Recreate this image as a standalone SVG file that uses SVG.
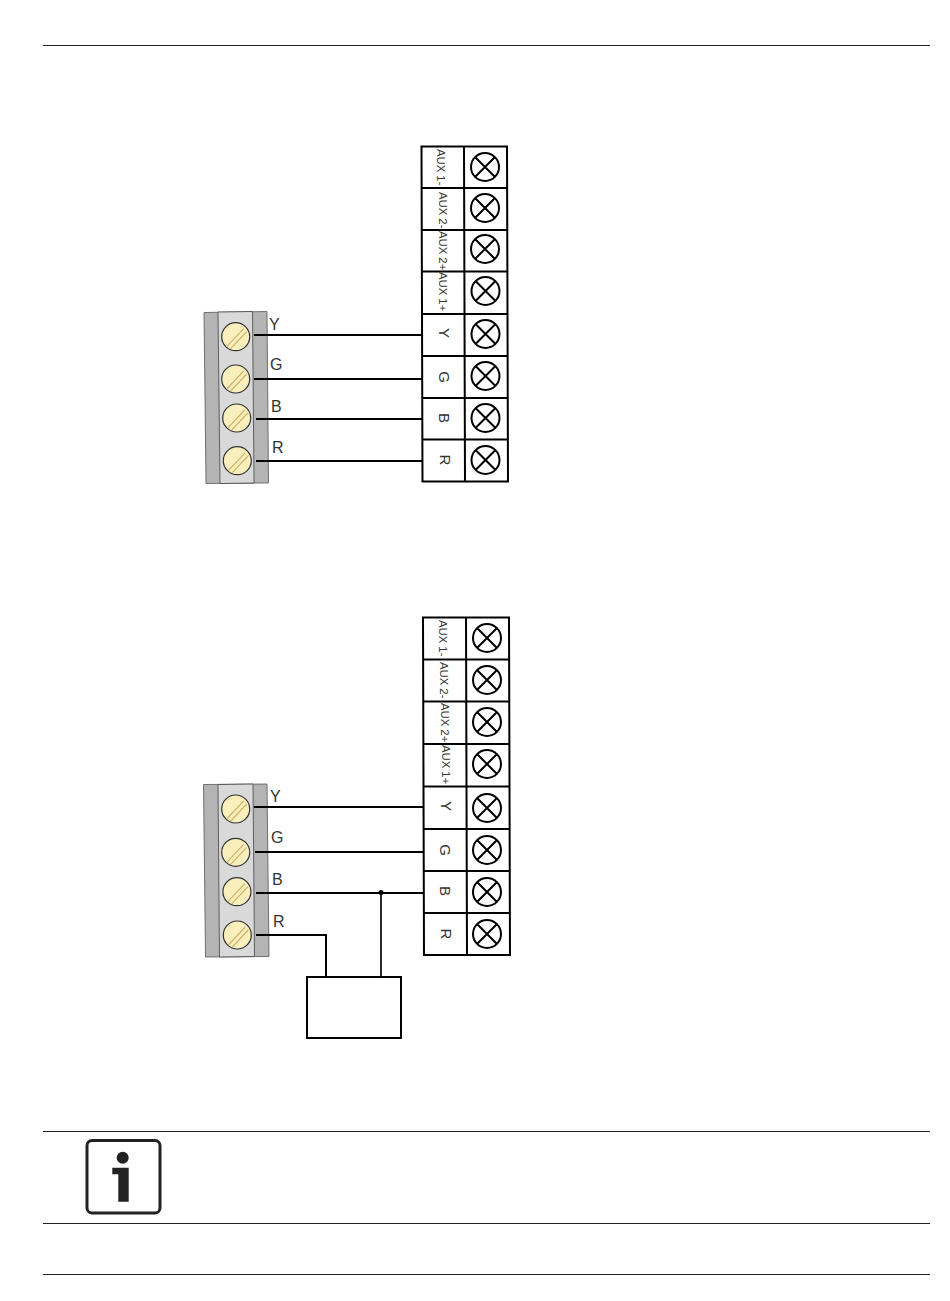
<svg xmlns="http://www.w3.org/2000/svg" xmlns:xlink="http://www.w3.org/1999/xlink" width="950" height="1301" viewBox="0 0 950 1301">
<style>
.bg{fill:#fff}
.rule{stroke:#222;stroke-width:1;fill:none}
.wire{stroke:#000;stroke-width:2;fill:none}
.thin{stroke:#111;stroke-width:1.8;fill:none}
.cell{fill:#fff;stroke:#000;stroke-width:2}
.side{fill:#b4b4b4;stroke:#555;stroke-width:.8}
.mid{fill:#d9d9d9;stroke:#444;stroke-width:.8}
.lbl{font-family:"Liberation Sans",Arial,sans-serif;font-size:16px;fill:#333}
.small{font-family:"Liberation Sans",Arial,sans-serif;font-size:11.3px;fill:#333}
.big{font-family:"Liberation Sans",Arial,sans-serif;font-size:15px;fill:#333;text-anchor:middle}
</style>
<defs>
<g id="screw">
<circle r="14" fill="#f9efbd" stroke="#333" stroke-width="1.2"/>
<path d="M-9 10L8 -8M-5 12L11 -5" stroke="#cfb468" stroke-width="1.2" fill="none"/>
</g>
<g id="cross">
<circle r="14" fill="#fff" stroke="#000" stroke-width="2"/>
<path d="M-10 -10L10 10M10 -10L-10 10" stroke="#000" stroke-width="2" fill="none"/>
</g>
</defs>
<rect class="bg" width="950" height="1301"/>
<g id="page-rules">
<path class="rule" d="M43 45.500H930M43 1131.500H930M43 1223.500H930M43 1274.500H930"/>
</g>

<g id="terminal-top">
<path class="side" d="M204 312.500L267 311.500L268.500 483L206 483.500Z"/>
<path class="mid" d="M218 312L252.500 311.500L254 483L220 483.500Z"/>
<use xlink:href="#screw" href="#screw" x="235.700" y="336.700"/>
<use xlink:href="#screw" href="#screw" x="235.700" y="379"/>
<use xlink:href="#screw" href="#screw" x="236.700" y="418"/>
<use xlink:href="#screw" href="#screw" x="237.300" y="460.700"/>
<text class="lbl" x="269" y="330">Y</text>
<text class="lbl" x="270" y="370">G</text>
<text class="lbl" x="271" y="412">B</text>
<text class="lbl" x="272" y="453">R</text>
</g>

<g id="block-top">
<path class="cell" d="M421.500 146.500H507L508 481.500H422.500Z"/>
<path class="cell" d="M464 146.500L465 481.500M421.500 188H507M421.500 230H507.500M421.500 271.500H507.500M422 314H507.500M422 356H508M422 398H508M422 439.500H508"/>
<use xlink:href="#cross" href="#cross" x="485" y="167"/>
<use xlink:href="#cross" href="#cross" x="485" y="208"/>
<use xlink:href="#cross" href="#cross" x="485" y="249"/>
<use xlink:href="#cross" href="#cross" x="485.500" y="291"/>
<use xlink:href="#cross" href="#cross" x="485.500" y="334"/>
<use xlink:href="#cross" href="#cross" x="485.500" y="376"/>
<use xlink:href="#cross" href="#cross" x="485.500" y="418"/>
<use xlink:href="#cross" href="#cross" x="485.500" y="460"/>
<text class="small" transform="translate(437 149) rotate(90)">AUX 1-</text>
<text class="small" transform="translate(438.500 192) rotate(90)">AUX 2-</text>
<text class="small" transform="translate(438.500 231) rotate(90)">AUX 2+</text>
<text class="small" transform="translate(439 272) rotate(90)">AUX 1+</text>
<text class="big" transform="translate(439 333) rotate(90)">Y</text>
<text class="big" transform="translate(439 377) rotate(90)">G</text>
<text class="big" transform="translate(439 418) rotate(90)">B</text>
<text class="big" transform="translate(440 460) rotate(90)">R</text>
</g>

<g id="terminal-bottom">
<path class="side" d="M203.500 784.500L267 784L269 956.500L205.500 957Z"/>
<path class="mid" d="M218 784.500L253 784L254.500 956.500L219.500 957Z"/>
<use xlink:href="#screw" href="#screw" x="235.700" y="809"/>
<use xlink:href="#screw" href="#screw" x="235.700" y="852.300"/>
<use xlink:href="#screw" href="#screw" x="236.900" y="891.700"/>
<use xlink:href="#screw" href="#screw" x="237.300" y="935"/>
<text class="lbl" x="270" y="802">Y</text>
<text class="lbl" x="271" y="843">G</text>
<text class="lbl" x="272" y="885">B</text>
<text class="lbl" x="273" y="927">R</text>
</g>

<g id="block-bottom">
<path class="cell" d="M423 617.500H509L510 955H424Z"/>
<path class="cell" d="M466 617.500L467 955M423 659.500H509M423 701.500H509M423 744H509.500M423.500 786.500H509.500M423.500 829H510M424 871H510M424 913H510"/>
<use xlink:href="#cross" href="#cross" x="487" y="638"/>
<use xlink:href="#cross" href="#cross" x="487" y="680"/>
<use xlink:href="#cross" href="#cross" x="487" y="722"/>
<use xlink:href="#cross" href="#cross" x="487" y="764"/>
<use xlink:href="#cross" href="#cross" x="487" y="808"/>
<use xlink:href="#cross" href="#cross" x="487" y="850"/>
<use xlink:href="#cross" href="#cross" x="487" y="892"/>
<use xlink:href="#cross" href="#cross" x="487" y="934"/>
<text class="small" transform="translate(439 620) rotate(90)">AUX 1-</text>
<text class="small" transform="translate(440 662) rotate(90)">AUX 2-</text>
<text class="small" transform="translate(441 703) rotate(90)">AUX 2+</text>
<text class="small" transform="translate(442 745) rotate(90)">AUX 1+</text>
<text class="big" transform="translate(441 806) rotate(90)">Y</text>
<text class="big" transform="translate(440 850) rotate(90)">G</text>
<text class="big" transform="translate(440 891) rotate(90)">B</text>
<text class="big" transform="translate(441 934) rotate(90)">R</text>
</g>

<g id="device-box">
<rect class="cell" x="307" y="977" width="94" height="61"/>
</g>

<g id="connectors">
<path class="wire" d="M254 335H422M254 379H422M256 419H422M256 461H422"/>
<path class="wire" d="M254 807H423M255 852H423M256 893H423M256 935H326V977"/>
<path class="thin" d="M381 892V977"/>
<circle cx="381" cy="892.500" r="2.500" fill="#000"/>
</g>

<g id="info-icon">
<rect x="87" y="1140.500" width="73" height="72.500" rx="5" fill="#fff" stroke="#222" stroke-width="3"/>
<circle cx="122.700" cy="1157.700" r="6" fill="#222"/>
<path d="M112.300 1167.700H128.700V1201.700H118.300V1174.300H112.300Z" fill="#222"/>
</g>
</svg>
